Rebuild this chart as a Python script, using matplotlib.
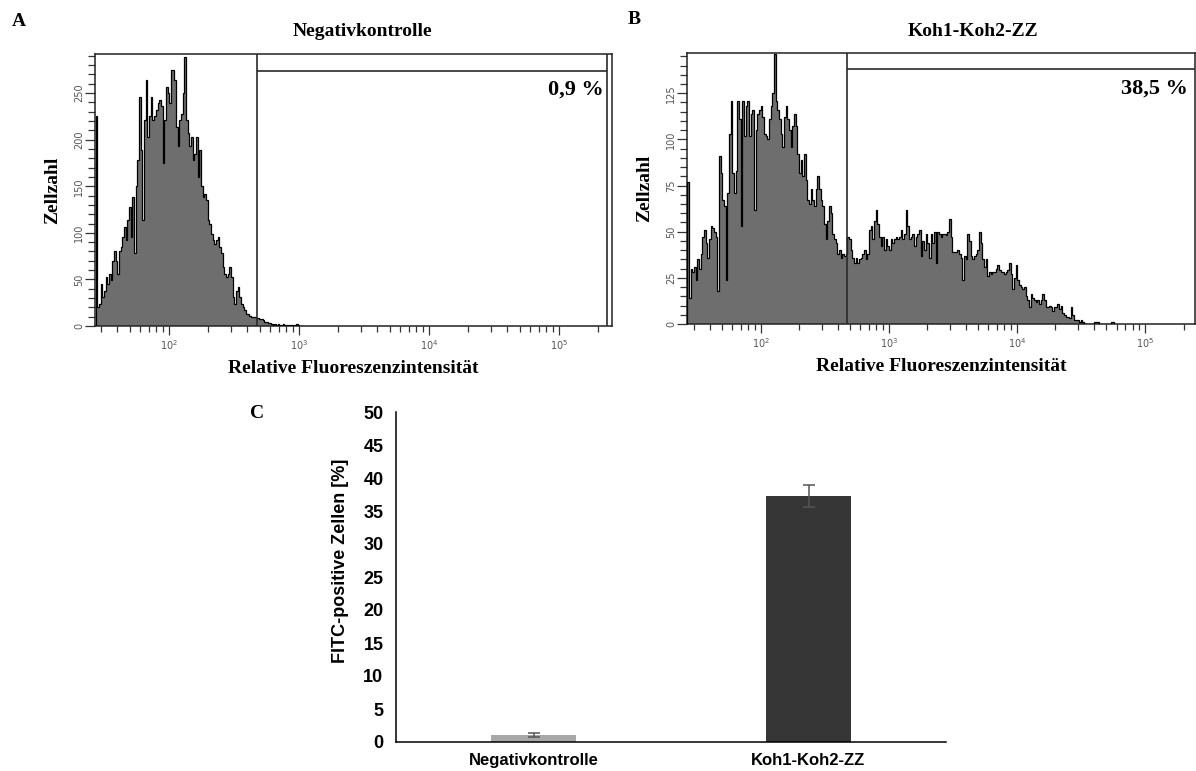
import numpy as np
import matplotlib
matplotlib.use('Agg')
import matplotlib.pyplot as plt
from matplotlib.ticker import LogLocator, LogFormatterSciNotation, MultipleLocator, NullFormatter

# --- histogram A: Negativkontrolle (counts per channel, log-spaced channels)
neg_log_start = 1.4436
neg_log_step = 0.012821
neg_counts = [225, 20, 24, 45, 31, 38, 53, 45, 56, 49,
              70, 81, 70, 56, 81, 85, 96, 106, 92, 114,
              128, 96, 139, 78, 150, 178, 246, 189, 114, 221,
              264, 203, 225, 246, 221, 225, 232, 239, 243, 236,
              175, 221, 257, 250, 239, 275, 275, 264, 214, 193,
              221, 228, 250, 289, 221, 207, 193, 203, 178, 185,
              203, 160, 189, 150, 139, 142, 135, 114, 110, 99,
              92, 88, 92, 96, 85, 78, 63, 56, 53, 56,
              63, 53, 31, 24, 38, 42, 31, 24, 20, 17,
              13, 13, 11, 10, 10, 10, 9, 9, 8, 7,
              6, 4, 4, 3, 3, 2, 1, 2, 1, 2,
              1, 1, 2, 1, 1, 0, 1, 1, 0, 1,
              2, 1, 0, 0]
neg_gate = (475, 234000)
neg_gate_y = 274
neg_percent = '0,9 %'

# --- histogram B: Koh1-Koh2-ZZ
koh_log_start = 1.4323
koh_log_step = 0.013021
koh_counts = [77, 14, 30, 28, 31, 24, 35, 30, 38, 47,
              51, 44, 36, 46, 53, 52, 50, 47, 18, 91,
              82, 67, 64, 24, 71, 103, 121, 82, 71, 83,
              121, 111, 53, 121, 102, 118, 121, 102, 114, 116,
              62, 105, 114, 116, 118, 112, 103, 102, 100, 111,
              118, 125, 146, 121, 116, 111, 103, 96, 112, 118,
              111, 105, 96, 107, 114, 107, 92, 82, 89, 80,
              92, 78, 67, 65, 73, 67, 64, 73, 80, 73,
              67, 64, 54, 46, 56, 64, 60, 49, 46, 44,
              38, 40, 36, 38, 37, 38, 47, 46, 40, 36,
              33, 36, 33, 35, 36, 38, 40, 35, 38, 51,
              53, 46, 56, 62, 54, 47, 42, 47, 40, 46,
              42, 40, 46, 44, 46, 47, 46, 47, 51, 46,
              49, 62, 53, 46, 47, 49, 42, 47, 49,
              51, 37, 45, 40, 49, 44, 36, 49, 44, 50,
              33, 50, 49, 47, 49, 49, 48, 50, 57, 47,
              39, 39, 39, 40, 38, 36, 24, 37, 35, 49,
              45, 37, 35, 37, 38, 40, 50, 44, 35, 31,
              35, 26, 28, 27, 28, 28, 30, 32, 29, 28,
              28, 27, 28, 29, 33, 27, 19, 25, 32, 24,
              21, 20, 19, 20, 15, 13, 9, 16, 14, 13,
              12, 13, 11, 13, 16, 13, 9, 9, 10, 9,
              7, 9, 9, 11, 8, 10, 6, 5, 4, 4,
              3, 9, 5, 2, 2, 2, 1, 2, 1, 0,
              0, 0, 0, 0, 0, 1, 1, 1, 0, 0,
              0, 0, 0, 0, 0, 1, 1, 0]
koh_gate = (470, 300000)
koh_gate_y = 138
koh_percent = '38,5 %'

# --- bar chart C
categories = ['Negativkontrolle', 'Koh1-Koh2-ZZ']
fitc_positive = [1.1, 37.3]
fitc_error = [0.3, 1.7]
bar_colors = ['#a8a8a8', '#363636']

W, H = 1196, 771
SERIF = ['Liberation Serif', 'DejaVu Serif']
SANS = ['Liberation Sans', 'DejaVu Sans']


def rect(left, top, right, bottom):
    return [left / W, 1 - bottom / H, (right - left) / W, (bottom - top) / H]


def fig_text(fig, x, y, s, **kw):
    fig.text(x / W, 1 - y / H, s, **kw)


def draw_histogram(axes, counts, log_start, log_step, xlim, ylim, major_y, minor_y,
                   gate, gate_y, percent):
    counts = np.array(counts, dtype=float)
    edges = 10 ** (log_start + log_step * (np.arange(counts.size + 1) - 0.5))
    axes.stairs(counts, edges, fill=True, color='#6e6e6e', lw=0, zorder=2)
    axes.stairs(counts, edges, color='black', lw=0.9, zorder=3)

    axes.set_xscale('log')
    axes.set_xlim(xlim)
    axes.set_ylim(ylim)

    axes.axvline(gate[0], color='#2a2a2a', lw=1.2, zorder=4)
    axes.axvline(gate[1], color='#2a2a2a', lw=1.2, zorder=4)
    axes.hlines(gate_y, gate[0], gate[1], color='#2a2a2a', lw=1.2, zorder=4)
    axes.text(0.985, 0.87, percent, transform=axes.transAxes, ha='right', va='center',
              fontsize=16, fontweight='bold', family=SERIF)

    axes.yaxis.set_major_locator(MultipleLocator(major_y))
    axes.yaxis.set_minor_locator(MultipleLocator(minor_y))
    axes.xaxis.set_major_locator(LogLocator(base=10))
    axes.xaxis.set_major_formatter(LogFormatterSciNotation(base=10))
    axes.xaxis.set_minor_locator(LogLocator(base=10, subs=np.arange(2, 10)))
    axes.xaxis.set_minor_formatter(NullFormatter())

    axes.tick_params(axis='y', which='major', length=7, width=0.9, color='#333333',
                     labelsize=7, labelcolor='#555555', labelrotation=90, pad=1)
    axes.tick_params(axis='y', which='minor', length=5, width=0.9, color='#333333')
    axes.tick_params(axis='x', which='major', length=6.5, width=0.9, color='#333333',
                     labelsize=7, labelcolor='#555555', pad=2)
    axes.tick_params(axis='x', which='minor', length=4.3, width=0.9, color='#333333')
    for label in axes.get_yticklabels():
        label.set_va('center')
    for spine in axes.spines.values():
        spine.set_color('#222222')
        spine.set_linewidth(1.1)
    axes.set_xlabel('Relative Fluoreszenzintensität', fontsize=14, fontweight='bold',
                    family=SERIF, labelpad=6)
    axes.set_ylabel('Zellzahl', fontsize=14, fontweight='bold', family=SERIF, labelpad=9)


fig = plt.figure(figsize=(W / 100, H / 100), dpi=100)

ax_a = fig.add_axes(rect(95, 54, 612, 326))
draw_histogram(ax_a, neg_counts, neg_log_start, neg_log_step,
               (10 ** 1.4308, 10 ** 5.4077), (0, 292), 50, 10,
               neg_gate, neg_gate_y, neg_percent)

ax_b = fig.add_axes(rect(687, 53, 1195, 324))
draw_histogram(ax_b, koh_counts, koh_log_start, koh_log_step,
               (10 ** 1.4242, 10 ** 5.3906), (0, 146.8), 25, 5,
               koh_gate, koh_gate_y, koh_percent)

fig_text(fig, 362, 32, 'Negativkontrolle', ha='center', va='center', fontsize=14,
         fontweight='bold', family=SERIF)
fig_text(fig, 973, 32, 'Koh1-Koh2-ZZ', ha='center', va='center', fontsize=14,
         fontweight='bold', family=SERIF)
fig_text(fig, 12, 22, 'A', ha='left', va='center', fontsize=14, fontweight='bold', family=SERIF)
fig_text(fig, 628, 20, 'B', ha='left', va='center', fontsize=14, fontweight='bold', family=SERIF)
fig_text(fig, 250, 413, 'C', ha='left', va='center', fontsize=14, fontweight='bold', family=SERIF)

# --- panel C
ax_c = fig.add_axes(rect(396, 412, 946, 742))
x_pos = np.arange(len(categories))
ax_c.bar(x_pos, fitc_positive, width=0.31, color=bar_colors, zorder=2,
         yerr=fitc_error, error_kw=dict(ecolor='#555555', capsize=4.5, elinewidth=1.1, capthick=1.1))
ax_c.set_xlim(-0.5, 1.5)
ax_c.set_ylim(0, 50)
ax_c.yaxis.set_major_locator(MultipleLocator(5))
ax_c.set_xticks(x_pos)
ax_c.set_xticklabels(categories)
for spine in ['top', 'right']:
    ax_c.spines[spine].set_visible(False)
for spine in ['left', 'bottom']:
    ax_c.spines[spine].set_linewidth(1.1)
    ax_c.spines[spine].set_color('black')
ax_c.tick_params(axis='y', length=0, pad=9)
ax_c.tick_params(axis='x', length=0, pad=8)
for label in ax_c.get_yticklabels():
    label.set_family(SANS)
    label.set_fontweight('bold')
    label.set_fontsize(13)
for label in ax_c.get_xticklabels():
    label.set_family(SANS)
    label.set_fontweight('bold')
    label.set_fontsize(12)
ax_c.set_ylabel('FITC-positive Zellen [%]', fontsize=13, fontweight='bold', family=SANS)
ax_c.yaxis.set_label_coords(-0.085, 0.548)

fig.savefig('out.png', dpi=100)
